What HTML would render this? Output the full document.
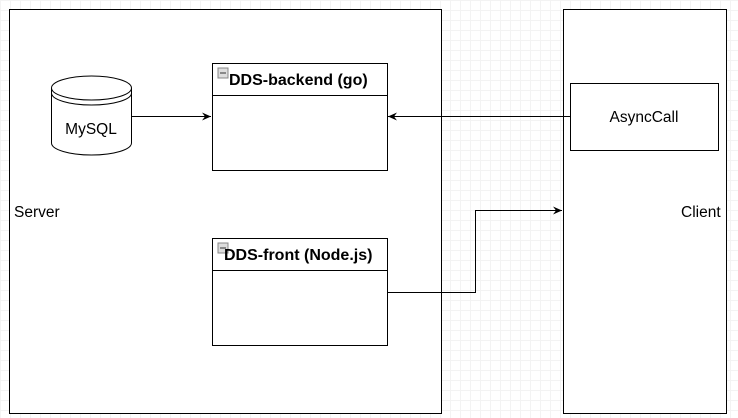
<!DOCTYPE html>
<html><head><style>
body{margin:0;width:738px;height:418px;overflow:hidden;background:#fff;
background-image:linear-gradient(#f3f3f3 1px,transparent 1px),linear-gradient(90deg,#f3f3f3 1px,transparent 1px);background-size:10px 10px;}
</style></head><body>
<svg width="738" height="418" xmlns="http://www.w3.org/2000/svg" style="position:absolute;left:0;top:0;font-family:'Liberation Sans',sans-serif">
<defs><marker id="a" markerWidth="10" markerHeight="10" refX="9" refY="5" orient="auto" markerUnits="userSpaceOnUse"><path d="M0,1 L9,5 L0,9 L3,5 Z" fill="#000"/></marker></defs>
<rect x="9.5" y="9.5" width="432" height="404" fill="#fff" stroke="#000"/>
<rect x="563.5" y="9.5" width="163" height="404" fill="#fff" stroke="#000"/>
<text x="14" y="217" font-size="15.5">Server</text>
<text x="681" y="217" font-size="15.5">Client</text>
<rect x="570.5" y="83.5" width="148" height="67" fill="#fff" stroke="#000"/>
<text x="644" y="122" font-size="15.5" text-anchor="middle">AsyncCall</text>
<rect x="212.5" y="63.5" width="175" height="107" fill="#fff" stroke="#000"/>
<line x1="212" y1="95.5" x2="388" y2="95.5" stroke="#000"/>
<rect x="218" y="68" width="10" height="10" fill="#ddd" stroke="#888"/><line x1="220" y1="73" x2="226" y2="73" stroke="#333"/>
<text x="229" y="85" font-size="16" font-weight="bold">DDS-backend (go)</text>
<rect x="212.5" y="238.5" width="175" height="107" fill="#fff" stroke="#000"/>
<line x1="212" y1="270.5" x2="388" y2="270.5" stroke="#000"/>
<rect x="218" y="243" width="10" height="10" fill="#ddd" stroke="#888"/><line x1="220" y1="248" x2="226" y2="248" stroke="#333"/>
<text x="224" y="260" font-size="16" font-weight="bold">DDS-front (Node.js)</text>
<path d="M51.5,88 A40,12 0 0 1 131.5,88 L131.5,143 A40,12 0 0 1 51.5,143 Z" fill="#fff" stroke="#000"/>
<path d="M51.5,88 A40,12 0 0 0 131.5,88" fill="none" stroke="#000"/>
<path d="M51.5,93 A40,12 0 0 0 131.5,93" fill="none" stroke="#000"/>
<text x="91" y="134" font-size="15.5" text-anchor="middle">MySQL</text>
<line x1="131" y1="116.5" x2="211" y2="116.5" stroke="#000" marker-end="url(#a)"/>
<line x1="570" y1="116.5" x2="388" y2="116.5" stroke="#000" marker-end="url(#a)"/>
<polyline points="387,292.5 475.5,292.5 475.5,210.5 562,210.5" fill="none" stroke="#000" marker-end="url(#a)"/>
</svg>
</body></html>
